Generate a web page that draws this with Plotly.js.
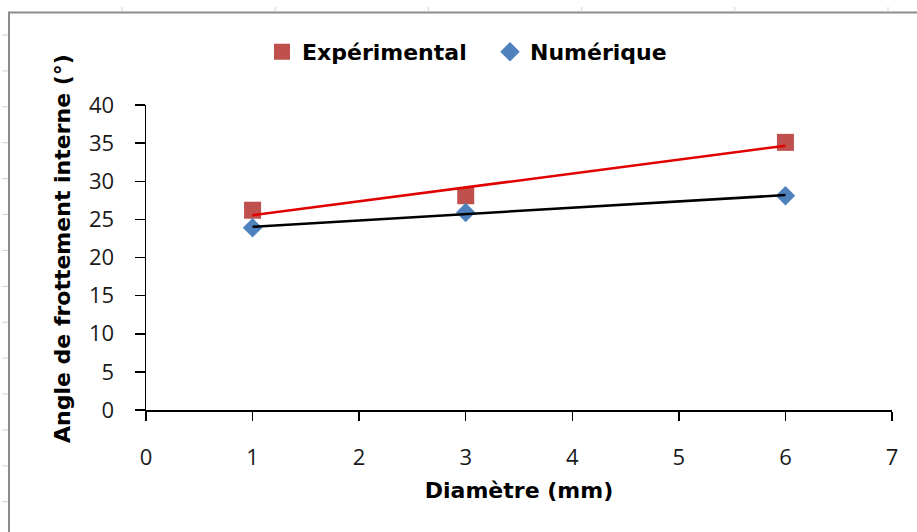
<!DOCTYPE html>
<html>
<head>
<meta charset="utf-8">
<script src="https://cdn.plot.ly/plotly-3.0.1.min.js"></script>
<style>html,body{margin:0;padding:0;background:#fff;}#chart{width:917px;height:532px;}</style>
</head>
<body>
<div id="chart"></div>
<script>
// Data
var diametres = [1, 3, 6];                 // Diamètre (mm)
var experimental = [26.2, 28.1, 35.1];     // Angle de frottement interne (°) – Expérimental
var numerique = [23.9, 25.9, 28.1];        // Angle de frottement interne (°) – Numérique
var xTicks = [0, 1, 2, 3, 4, 5, 6, 7];
var yTicks = [0, 5, 10, 15, 20, 25, 30, 35, 40];
var serieNames = ['Expérimental', 'Numérique'];
var xTitle = 'Diamètre (mm)';
var yTitle = 'Angle de frottement interne (°)';

// Linear least-squares trendline computed from the data
function trend(xs, ys) {
  var n = xs.length, mx = 0, my = 0;
  for (var i = 0; i < n; i++) { mx += xs[i]; my += ys[i]; }
  mx /= n; my /= n;
  var sxy = 0, sxx = 0;
  for (var j = 0; j < n; j++) { sxy += (xs[j]-mx)*(ys[j]-my); sxx += (xs[j]-mx)*(xs[j]-mx); }
  var b = sxy / sxx, a = my - b * mx;
  var x0 = Math.min.apply(null, xs), x1 = Math.max.apply(null, xs);
  return {x: [x0, x1], y: [a + b * x0, a + b * x1]};
}
var tExp = trend(diametres, experimental);
var tNum = trend(diametres, numerique);

var traces = [
  {x: diametres, y: experimental, name: serieNames[0], type: 'scatter', mode: 'markers',
   marker: {symbol: 'square', size: 17, color: '#C0504D'}},
  {x: diametres, y: numerique, name: serieNames[1], type: 'scatter', mode: 'markers',
   marker: {symbol: 'diamond', size: 15, color: '#4F81BD'}},
  {x: tExp.x, y: tExp.y, type: 'scatter', mode: 'lines', showlegend: false, hoverinfo: 'skip',
   line: {color: '#E00000', width: 2.5}},
  {x: tNum.x, y: tNum.y, type: 'scatter', mode: 'lines', showlegend: false, hoverinfo: 'skip',
   line: {color: '#000000', width: 2.5}}
];

// pixel -> paper helpers for decorative frame
var L = 146, R = 25, T = 105, B = 122, W = 917, H = 532;
var pw = W - L - R, ph = H - T - B;
function px(v) { return (v - L) / pw; }
function py(v) { return (H - B - v) / ph; }

var shapes = [];
// chart frame (spreadsheet chart object border)
shapes.push({type: 'rect', xref: 'paper', yref: 'paper', layer: 'below',
  x0: px(9), x1: px(980), y0: py(12.5), y1: py(580),
  line: {color: '#8c8c8c', width: 2}, fillcolor: 'rgba(0,0,0,0)'});
// faint spreadsheet gridline stubs
for (var k = 0; k < 14; k++) {
  var yy = 35 + 35.9 * k;
  shapes.push({type: 'line', xref: 'paper', yref: 'paper', layer: 'below',
    x0: px(2), x1: px(8), y0: py(yy), y1: py(yy), line: {color: '#d4d4d4', width: 1}});
}
for (var m = 0; m < 6; m++) {
  var xx = 122 + 153.2 * m;
  shapes.push({type: 'line', xref: 'paper', yref: 'paper', layer: 'below',
    x0: px(xx), x1: px(xx), y0: py(7), y1: py(12), line: {color: '#d4d4d4', width: 1}});
}

var tickFont = {family: 'Open Sans, DejaVu Sans, sans-serif', size: 22, color: '#1a1a1a'};
var boldFont = {family: 'DejaVu Sans, sans-serif', size: 22, color: '#000', weight: 'bold'};

var layout = {
  width: W, height: H,
  margin: {l: L, r: R, t: T, b: B, pad: 0},
  paper_bgcolor: '#ffffff', plot_bgcolor: 'rgba(0,0,0,0)',
  showlegend: true,
  legend: {orientation: 'h', x: px(262), xanchor: 'left', y: 1.174, yanchor: 'middle',
    entrywidth: 183,
    font: {family: 'DejaVu Sans, sans-serif', size: 22, color: '#000', weight: 'bold'},
    bgcolor: 'rgba(0,0,0,0)', traceorder: 'normal'},
  xaxis: {range: [0, 7], tickvals: xTicks, ticktext: xTicks.map(String),
    showline: true, linecolor: '#000', linewidth: 1.5, mirror: false,
    ticks: 'outside', ticklen: 9, tickwidth: 1.5, tickcolor: '#000',
    showgrid: false, zeroline: false, tickfont: tickFont, ticklabelstandoff: 18,
    title: {text: xTitle, font: boldFont, standoff: 12}, automargin: false, fixedrange: true},
  yaxis: {range: [0, 40], tickvals: yTicks, ticktext: yTicks.map(String),
    showline: true, linecolor: '#000', linewidth: 1.5, mirror: false,
    ticks: 'outside', ticklen: 10, tickwidth: 1.5, tickcolor: '#000',
    showgrid: false, zeroline: false, tickfont: tickFont, ticklabelstandoff: 16,
    automargin: false, fixedrange: true},
  annotations: [{text: yTitle, textangle: -90, font: boldFont, showarrow: false,
    xref: 'paper', yref: 'paper', x: px(62), y: py(249), xanchor: 'center', yanchor: 'middle'}],
  shapes: shapes
};

Plotly.newPlot('chart', traces, layout, {displayModeBar: false, staticPlot: true});
</script>
</body>
</html>
